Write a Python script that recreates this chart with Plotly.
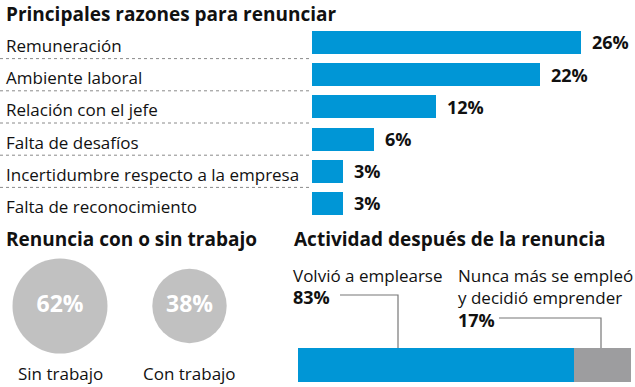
import plotly.graph_objects as go

W, H = 635, 387

# ---- data ----
reasons = ["Remuneración", "Ambiente laboral", "Relación con el jefe",
           "Falta de desafíos", "Incertidumbre respecto a la empresa",
           "Falta de reconocimiento"]
reason_pct = [26, 22, 12, 6, 3, 3]

job_labels = ["Sin trabajo", "Con trabajo"]
job_pct = [62, 38]

activity_labels = ["Volvió a emplearse", "Nunca más se empleó<br>y decidió emprender"]
activity_pct = [83, 17]

BLUE = "#0096d6"
GREY = "#a7a7a7"
GREY_BAR = "#9d9d9f"
LINE = "#777777"
FONT = "Open Sans"
TXT = "#111111"
LBL = 17
NUM = 18
TIT = 19

def px(x):
    return x / W

def py(y):
    return 1 - y / H

fig = go.Figure()

# ---- top horizontal bars ----
fig.add_trace(go.Bar(
    x=reason_pct, y=list(range(len(reasons))), orientation="h",
    marker=dict(color=BLUE, line=dict(width=0)), width=0.71,
    xaxis="x", yaxis="y", hoverinfo="skip", showlegend=False))

annotations = []
shapes = []
for i, (r, v) in enumerate(zip(reasons, reason_pct)):
    annotations.append(dict(x=px(4), xref="paper", y=i, yref="y", text=r,
                            showarrow=False, xanchor="left", yanchor="middle", yshift=-3,
                            font=dict(family=FONT, size=LBL, color=TXT)))
    annotations.append(dict(x=v, xref="x", y=i, yref="y", text=f"<b>{v}%</b>",
                            showarrow=False, xanchor="left", yanchor="middle", xshift=9,
                            font=dict(family=FONT, size=NUM, color=TXT, weight=800)))
for i in range(len(reasons) - 1):
    shapes.append(dict(type="line", xref="paper", yref="y", x0=0, x1=px(312),
                       y0=i + 0.5, y1=i + 0.5,
                       line=dict(color="#8a8a8a", width=1, dash="dot")))

# ---- circles ----
sref = 2 * max(job_pct) / (95 ** 2)
fig.add_trace(go.Scatter(
    x=[0, 1], y=[0, 0], mode="markers+text",
    marker=dict(size=job_pct, sizemode="area", sizeref=sref, color=GREY,
                line=dict(width=0)),
    text=[f"<b>{v}%</b>" for v in job_pct], textposition="middle center",
    textfont=dict(family=FONT, size=23, color="white", weight=800),
    xaxis="x2", yaxis="y2", hoverinfo="skip", showlegend=False))
for i, lab in enumerate(job_labels):
    annotations.append(dict(x=i, xref="x2", y=py(373), yref="paper", text=lab,
                            showarrow=False, xanchor="center", yanchor="middle",
                            font=dict(family=FONT, size=17, color=TXT)))

# ---- stacked bar ----
cols = [BLUE, GREY_BAR]
for lab, v, c in zip(activity_labels, activity_pct, cols):
    fig.add_trace(go.Bar(x=[v], y=[0], orientation="h", width=1,
                         marker=dict(color=c, line=dict(width=0)),
                         xaxis="x3", yaxis="y3", hoverinfo="skip", showlegend=False))

annotations += [
    dict(x=px(291), y=py(275), xref="paper", yref="paper", text=activity_labels[0],
         showarrow=False, xanchor="left", yanchor="middle",
         font=dict(family=FONT, size=LBL, color=TXT)),
    dict(x=px(291), y=py(297), xref="paper", yref="paper", text=f"<b>{activity_pct[0]}%</b>",
         showarrow=False, xanchor="left", yanchor="middle",
         font=dict(family=FONT, size=NUM, color=TXT, weight=800)),
    dict(x=px(456), y=py(286), xref="paper", yref="paper", text=activity_labels[1],
         showarrow=False, xanchor="left", yanchor="middle", align="left",
         font=dict(family=FONT, size=LBL, color=TXT)),
    dict(x=px(456), y=py(320), xref="paper", yref="paper", text=f"<b>{activity_pct[1]}%</b>",
         showarrow=False, xanchor="left", yanchor="middle",
         font=dict(family=FONT, size=NUM, color=TXT, weight=800)),
]
shapes += [
    dict(type="path", xref="paper", yref="paper",
         path=f"M {px(340)},{py(295)} L {px(398)},{py(295)} L {px(398)},{py(348)}",
         line=dict(color=LINE, width=1.2)),
    dict(type="path", xref="paper", yref="paper",
         path=f"M {px(499)},{py(318)} L {px(601)},{py(318)} L {px(601)},{py(348)}",
         line=dict(color=LINE, width=1.2)),
]

# ---- titles ----
titles = [("Principales razones para renunciar", 4, 14),
          ("Renuncia con o sin trabajo", 4, 239),
          ("Actividad después de la renuncia", 292, 239)]
for t, x, y in titles:
    annotations.append(dict(x=px(x), y=py(y), xref="paper", yref="paper",
                            text=f"<b>{t}</b>", showarrow=False, xanchor="left",
                            yanchor="middle",
                            font=dict(family=FONT, size=TIT, color=TXT, weight=800)))

ax_off = dict(visible=False, fixedrange=True)
fig.update_layout(
    width=W, height=H, margin=dict(l=0, r=0, t=0, b=0),
    paper_bgcolor="white", plot_bgcolor="white", barmode="stack",
    xaxis=dict(domain=[px(312), 1], range=[0, (W - 312) / 10.35], **ax_off),
    yaxis=dict(domain=[py(219.6), py(26.4)], range=[5.5, -0.5], **ax_off),
    xaxis2=dict(domain=[0, 0.45], range=[-60 / 129.5, (0.45 * W - 60) / 129.5], **ax_off),
    yaxis2=dict(domain=[py(357), py(255)], range=[-1, 1], **ax_off),
    xaxis3=dict(domain=[px(298), px(631)], range=[0, 100], **ax_off),
    yaxis3=dict(domain=[py(382), py(348)], range=[-0.5, 0.5], **ax_off),
    annotations=annotations, shapes=shapes,
)

fig.write_html("out.html", config={"displayModeBar": False},
               post_script="document.body.style.margin='0';document.body.style.overflow='hidden';")
